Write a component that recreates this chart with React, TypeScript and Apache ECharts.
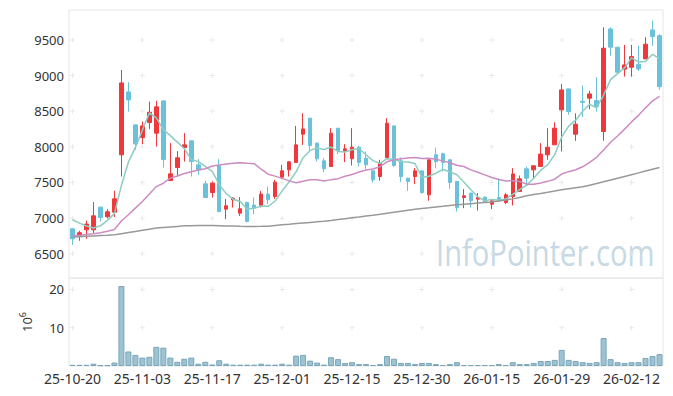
import React, { useEffect, useRef } from 'react';
import * as echarts from 'echarts';

const dates = [
  '25-10-20','25-10-21','25-10-22','25-10-23','25-10-24','25-10-27','25-10-28','25-10-29','25-10-30','25-10-31',
  '25-11-03','25-11-04','25-11-05','25-11-06','25-11-07','25-11-10','25-11-11','25-11-12','25-11-13','25-11-14',
  '25-11-17','25-11-18','25-11-19','25-11-20','25-11-21','25-11-24','25-11-25','25-11-26','25-11-27','25-11-28',
  '25-12-01','25-12-02','25-12-03','25-12-04','25-12-05','25-12-08','25-12-09','25-12-10','25-12-11','25-12-12',
  '25-12-15','25-12-16','25-12-17','25-12-18','25-12-19','25-12-22','25-12-23','25-12-24','25-12-26','25-12-29',
  '25-12-30','26-01-02','26-01-05','26-01-06','26-01-07','26-01-08','26-01-09','26-01-12','26-01-13','26-01-14',
  '26-01-15','26-01-16','26-01-19','26-01-20','26-01-21','26-01-22','26-01-23','26-01-26','26-01-27','26-01-28',
  '26-01-29','26-01-30','26-02-02','26-02-03','26-02-04','26-02-05','26-02-06','26-02-09','26-02-10','26-02-11',
  '26-02-12','26-02-13','26-02-19','26-02-20','26-02-23',
];

const opens = [
  6850, 6748, 6836, 6836, 7154, 7019, 7084, 7888, 8771, 8308,
  8130, 8341, 8192, 8645, 7527, 7710, 7990, 8084, 7748, 7481,
  7359, 7734, 7126, 7257, 7070, 7219, 7183, 7177, 7337, 7303,
  7575, 7677, 7780, 8178, 8402, 8052, 7804, 7724, 8262, 7944,
  7832, 7995, 7841, 7663, 7583, 7850, 8294, 7804, 7561, 7583,
  7663, 7327, 7888, 7902, 7818, 7514, 7289, 7351, 7266, 7295,
  7196, 7289, 7219, 7303, 7373, 7692, 7677, 7724, 7888, 8028,
  8519, 8813, 8178, 8640, 8683, 8649, 8215, 9654, 9398, 9089,
  9117, 9159, 9234, 9640, 9560,
];
const closes = [
  6710, 6795, 6916, 7032, 7009, 7089, 7271, 8897, 8659, 8042,
  8294, 8486, 8561, 7822, 7621, 7846, 8028, 7794, 7677, 7289,
  7490, 7093, 7173, 7281, 7131, 6953, 7149, 7337, 7257, 7505,
  7663, 7790, 8028, 8252, 8018, 7832, 7692, 8192, 7948, 7972,
  7995, 7780, 7748, 7537, 7771, 8332, 7738, 7583, 7514, 7663,
  7359, 7818, 7794, 7780, 7500, 7149, 7313, 7243, 7289, 7225,
  7243, 7257, 7327, 7620, 7551, 7561, 7734, 7898, 7995, 8262,
  8799, 8495, 8318, 8625, 8743, 8565, 9384, 9398, 9047, 9150,
  9266, 9093, 9440, 9547, 8845,
];
const lows = [
  6626, 6682, 6710, 6790, 6953, 6995, 7014, 7583, 8495, 7958,
  8038, 8248, 8004, 7710, 7527, 7583, 7794, 7583, 7607, 7289,
  7289, 7080, 6986, 7149, 7032, 6940, 7056, 7149, 7196, 7271,
  7547, 7584, 7780, 8028, 7934, 7794, 7645, 7724, 7898, 7786,
  7738, 7724, 7692, 7499, 7523, 7850, 7720, 7505, 7383, 7477,
  7341, 7243, 7701, 7654, 7411, 7093, 7140, 7149, 7107, 7220,
  7126, 7250, 7196, 7177, 7373, 7467, 7561, 7724, 7818, 8028,
  7935, 8448, 8084, 8420, 8528, 8495, 8084, 9280, 9019, 8986,
  8986, 9065, 9234, 9416, 8799,
];
const highs = [
  6860, 6822, 6962, 7225, 7160, 7127, 7383, 9079, 8907, 8315,
  8355, 8635, 8645, 8650, 8052, 7940, 8192, 8090, 7827, 7523,
  7514, 7827, 7267, 7289, 7295, 7230, 7289, 7383, 7443, 7537,
  7748, 7795, 8294, 8472, 8410, 8060, 7842, 8262, 8265, 8038,
  8262, 8014, 7934, 7665, 7818, 8402, 8300, 7850, 7565, 7701,
  7665, 7841, 7990, 7920, 7830, 7520, 7407, 7355, 7351, 7300,
  7250, 7561, 7351, 7701, 7598, 7724, 7740, 8052, 8262, 8346,
  8883, 8815, 8470, 8860, 8785, 8977, 9678, 9678, 9400, 9430,
  9430, 9420, 9538, 9771, 9580,
];
// volume, millions of shares
const volumes = [
  0.3, 0.3, 0.3, 0.6, 0.2, 0.2, 0.9, 20.9, 3.8, 2.9,
  2.2, 2.4, 5.0, 4.8, 2.2, 1.1, 1.9, 2.2, 0.6, 1.1,
  0.4, 1.5, 0.6, 0.35, 0.35, 0.35, 0.35, 0.6, 0.35, 0.35,
  0.6, 0.35, 2.7, 2.9, 1.4, 0.9, 0.35, 2.3, 1.8, 0.8,
  1.0, 0.5, 0.5, 0.25, 0.5, 2.6, 1.9, 0.8, 0.8, 0.5,
  0.8, 0.8, 0.5, 0.25, 0.5, 1.0, 0.25, 0.25, 0.25, 0.25,
  0.25, 0.5, 0.25, 1.0, 0.5, 0.5, 0.8, 1.3, 1.3, 1.6,
  4.2, 1.6, 1.3, 1.0, 0.8, 1.0, 7.3, 1.8, 1.0, 0.8,
  1.0, 1.0, 2.1, 2.6, 3.1,
];
// moving-average values before a full window of visible closes exists
const ma5Head = [6977, 6930, 6890, 6862];
const ma20Head = [
  6752, 6760, 6770, 6782, 6795, 6815, 6840, 6960, 7047, 7140,
  7233, 7340, 7443, 7490, 7561, 7590, 7625, 7650, 7675,
];
const ma60 = [
  6734, 6740, 6745, 6750, 6755, 6760, 6766, 6782, 6798, 6814,
  6830, 6845, 6860, 6868, 6876, 6884, 6892, 6894, 6896, 6897,
  6896, 6894, 6891, 6888, 6885, 6883, 6884, 6885, 6887, 6897,
  6906, 6914, 6923, 6932, 6940, 6948, 6955, 6967, 6980, 6992,
  7004, 7016, 7029, 7041, 7054, 7068, 7082, 7096, 7110, 7124,
  7134, 7144, 7155, 7165, 7176, 7187, 7195, 7203, 7211, 7219,
  7227, 7240, 7255, 7270, 7290, 7313, 7330, 7345, 7362, 7380,
  7397, 7411, 7425, 7439, 7462, 7485, 7510, 7535, 7560, 7585,
  7610, 7635, 7660, 7685, 7710,
];
const priceTicks = [6500, 7000, 7500, 8000, 8500, 9000, 9500];
const volumeTicks = [10, 20];
const labelStep = 10;

function movingAverage(period: number, head: number[]) {
  return closes.map((_, i) => {
    if (i < head.length) return head[i];
    let s = 0;
    for (let k = i - period + 1; k <= i; k++) s += closes[k];
    return Math.round(s / period);
  });
}

const FONT = "'Noto Sans', 'Open Sans', sans-serif";
const UP = '#ee383c';
const DOWN = '#6cc1da';
const CROSS = 'path://M2,0L3,0L3,5L2,5ZM0,2L5,2L5,3L0,3Z';

export default function App() {
  const ref = useRef<HTMLDivElement>(null);
  useEffect(() => {
    document.body.style.margin = '0';
    if (!ref.current) return;
    const chart = echarts.init(ref.current, undefined, { renderer: 'svg' });
    const candles = dates.map((_, i) => [opens[i], closes[i], lows[i], highs[i]]);
    const labelIdx = dates.map((_, i) => i).filter((i) => i % labelStep === 0);
    const priceCross: any[] = [];
    labelIdx.forEach((i) => priceTicks.forEach((v) => priceCross.push([dates[i], v])));
    const volCross: any[] = [];
    labelIdx.forEach((i) => volumeTicks.forEach((v) => volCross.push([dates[i], v])));

    chart.setOption({
      animation: false,
      textStyle: { fontFamily: FONT },
      grid: [
        { left: 69, right: 10, top: 10, height: 268, show: true, borderColor: '#e6e6e6', borderWidth: 1 },
        { left: 69, right: 10, top: 278, height: 88, show: true, borderColor: '#e6e6e6', borderWidth: 1 },
      ],
      graphic: [
        {
          type: 'text',
          x: 436,
          y: 234,
          z: 0,
          silent: true,
          scaleX: 0.81,
          style: {
            text: 'InfoPointer.com',
            font: "36px 'Open Sans', sans-serif",
            fill: '#c6d9e4',
            textAlign: 'left',
            textVerticalAlign: 'top',
          },
        },
      ],
      xAxis: [
        {
          type: 'category', gridIndex: 0, data: dates,
          axisLine: { show: false }, axisTick: { show: false }, axisLabel: { show: false }, splitLine: { show: false },
        },
        {
          type: 'category', gridIndex: 1, data: dates,
          axisLine: { show: false }, axisTick: { show: false }, splitLine: { show: false },
          axisLabel: { interval: labelStep - 1, color: '#333', fontSize: 14, margin: 5, fontFamily: FONT },
        },
      ],
      yAxis: [
        {
          type: 'value', gridIndex: 0, min: 6160, max: 9920, splitNumber: 8, scale: true,
          axisLine: { show: false }, axisTick: { show: false }, splitLine: { show: false },
          axisLabel: {
            showMinLabel: false, showMaxLabel: false, color: '#333', fontSize: 13, margin: 5, fontFamily: FONT,
            formatter: (v: number) => String(v),
          },
        },
        {
          type: 'value', gridIndex: 1, min: 0, max: 23, interval: 10,
          axisLine: { show: false }, axisTick: { show: false }, splitLine: { show: false },
          axisLabel: {
            showMinLabel: false, showMaxLabel: false, color: '#333', fontSize: 13, margin: 5, fontFamily: FONT,
            formatter: (v: number) => String(v),
          },
          name: '{b|10}{s|6}',
          nameLocation: 'middle',
          nameRotate: 90,
          nameGap: 33,
          nameTextStyle: {
            color: '#333',
            rich: {
              b: { fontSize: 13, fontFamily: FONT, color: '#333' },
              s: { fontSize: 9, fontFamily: FONT, color: '#333', padding: [0, 0, 9, 0] },
            },
          },
        },
      ],
      series: [
        {
          type: 'scatter', xAxisIndex: 0, yAxisIndex: 0, data: priceCross, symbol: CROSS, symbolSize: 5,
          itemStyle: { color: '#e3e3e3' }, silent: true, z: 0,
        },
        {
          type: 'scatter', xAxisIndex: 1, yAxisIndex: 1, data: volCross, symbol: CROSS, symbolSize: 5,
          itemStyle: { color: '#e3e3e3' }, silent: true, z: 0,
        },
        {
          name: 'price', type: 'candlestick', xAxisIndex: 0, yAxisIndex: 0, data: candles, barWidth: 4,
          itemStyle: { color: UP, color0: DOWN, borderColor: UP, borderColor0: DOWN, borderWidth: 1 },
          z: 3,
        },
        {
          name: 'MA5', type: 'line', xAxisIndex: 0, yAxisIndex: 0, data: movingAverage(5, ma5Head),
          symbol: 'none', lineStyle: { color: '#8dcdc2', width: 1.5 }, z: 4,
        },
        {
          name: 'MA20', type: 'line', xAxisIndex: 0, yAxisIndex: 0, data: movingAverage(20, ma20Head),
          symbol: 'none', lineStyle: { color: '#cc8cc2', width: 1.5 }, z: 4,
        },
        {
          name: 'MA60', type: 'line', xAxisIndex: 0, yAxisIndex: 0, data: ma60,
          symbol: 'none', lineStyle: { color: '#999999', width: 1.5 }, z: 4,
        },
        {
          name: 'volume', type: 'bar', xAxisIndex: 1, yAxisIndex: 1, data: volumes, barWidth: 6,
          itemStyle: { color: '#9dc2d2', borderColor: '#7aa6b9', borderWidth: 1 }, z: 3,
        },
      ],
    });
    return () => chart.dispose();
  }, []);
  return <div ref={ref} style={{ width: 673, height: 396 }} />;
}
